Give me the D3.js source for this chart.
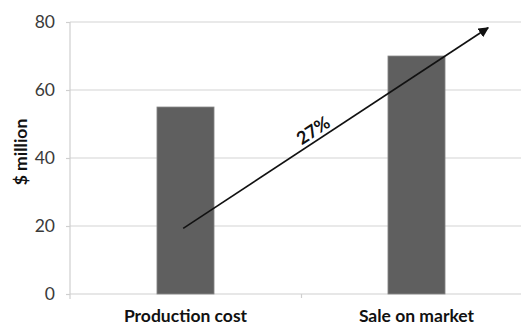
<!DOCTYPE html>
<html>
<head>
<meta charset="utf-8">
<script src="https://cdn.jsdelivr.net/npm/d3@7"></script>
<style>
  html, body { margin: 0; padding: 0; background: #fff; }
  svg { display: block; }
  text { font-family: Lato, "Open Sans", sans-serif; }
</style>
</head>
<body>
<svg id="chart" width="521" height="325"></svg>
<script>
// Categories and values ($ million)
const categories = ["Production cost", "Sale on market"];
const values = [55, 70];
const yTicks = [0, 20, 40, 60, 80];
const yLabel = "$ million";

// Growth arrow endpoints, in (category position, $ million) units
const arrowPos = [0.49, 1.81];
const arrowVal = [19.3, 78.3];

const svg = d3.select("#chart");
const plot = { left: 70, right: 532, top: 22, bottom: 294 };

const x = d3.scaleBand().domain(categories).range([plot.left, plot.right])
  .paddingInner(0.753).paddingOuter(0.3765);
const xPos = d3.scaleLinear().domain([0, categories.length]).range([plot.left, plot.right]);
const y = d3.scaleLinear().domain([0, 80]).range([plot.bottom, plot.top]);

// Horizontal gridlines
svg.append("g").selectAll("line").data(yTicks.filter(d => d > 0)).join("line")
  .attr("x1", plot.left).attr("x2", plot.right)
  .attr("y1", d => y(d)).attr("y2", d => y(d))
  .attr("stroke", "#d4d4d4").attr("stroke-width", 1.2);

// Y axis
const yAxis = svg.append("g").attr("transform", `translate(${plot.left},0)`)
  .call(d3.axisLeft(y).tickValues(yTicks).tickSize(4).tickPadding(11));
yAxis.select(".domain").attr("stroke", "#cfcfcf").attr("stroke-width", 1.2)
  .attr("d", `M0,${plot.top}V${plot.bottom + 5}`);
yAxis.selectAll(".tick line").attr("stroke", "#cfcfcf").attr("stroke-width", 1.2);
yAxis.selectAll(".tick text").attr("fill", "#3a3a3a")
  .style("font-family", "Lato, sans-serif").style("font-size", "17.5px");

// X axis
const xAxis = svg.append("g").attr("transform", `translate(0,${plot.bottom})`)
  .call(d3.axisBottom(xPos).tickValues([1]).tickSize(4).tickFormat(""));
xAxis.select(".domain").attr("stroke", "#cfcfcf").attr("stroke-width", 1.2)
  .attr("d", `M${plot.left},0H${plot.right}`);
xAxis.selectAll(".tick line").attr("stroke", "#cfcfcf").attr("stroke-width", 1.2);

svg.append("g").selectAll("text").data(categories).join("text")
  .attr("x", d => x(d) + x.bandwidth() / 2)
  .attr("y", 322)
  .attr("text-anchor", "middle")
  .attr("fill", "#111")
  .style("font-size", "17.5px").style("font-weight", "bold")
  .text(d => d);

// Bars
svg.append("g").selectAll("rect").data(values).join("rect")
  .attr("x", (d, i) => x(categories[i]))
  .attr("width", x.bandwidth())
  .attr("y", d => y(d))
  .attr("height", d => y(0) - y(d))
  .attr("fill", "#5f5f5f")
  .attr("stroke", "#8a8a8a").attr("stroke-width", 0.8);

// Y axis title
svg.append("text")
  .attr("transform", `translate(27,152) rotate(-90)`)
  .attr("text-anchor", "middle")
  .attr("fill", "#111")
  .style("font-size", "17.5px").style("font-weight", "bold")
  .text(yLabel);

// Growth arrow
svg.append("defs").append("marker")
  .attr("id", "head").attr("viewBox", "0 0 10 10")
  .attr("refX", 9).attr("refY", 5)
  .attr("markerWidth", 6.5).attr("markerHeight", 6.5)
  .attr("orient", "auto")
  .append("path").attr("d", "M0,0L10,5L0,10Z").attr("fill", "#111");

const x1 = xPos(arrowPos[0]), y1 = y(arrowVal[0]);
const x2 = xPos(arrowPos[1]), y2 = y(arrowVal[1]);
svg.append("line")
  .attr("x1", x1).attr("y1", y1).attr("x2", x2).attr("y2", y2)
  .attr("stroke", "#111").attr("stroke-width", 1.6)
  .attr("marker-end", "url(#head)");

const growth = Math.round((values[1] / values[0] - 1) * 100);
const angle = Math.atan2(y2 - y1, x2 - x1) * 180 / Math.PI;
const t = 0.445;
svg.append("text")
  .attr("transform", `translate(${x1 + (x2 - x1) * t},${y1 + (y2 - y1) * t}) rotate(${angle})`)
  .attr("y", -4)
  .attr("text-anchor", "middle")
  .attr("fill", "#111")
  .style("font-size", "18px").style("font-weight", "bold")
  .text(growth + "%");
</script>
</body>
</html>
